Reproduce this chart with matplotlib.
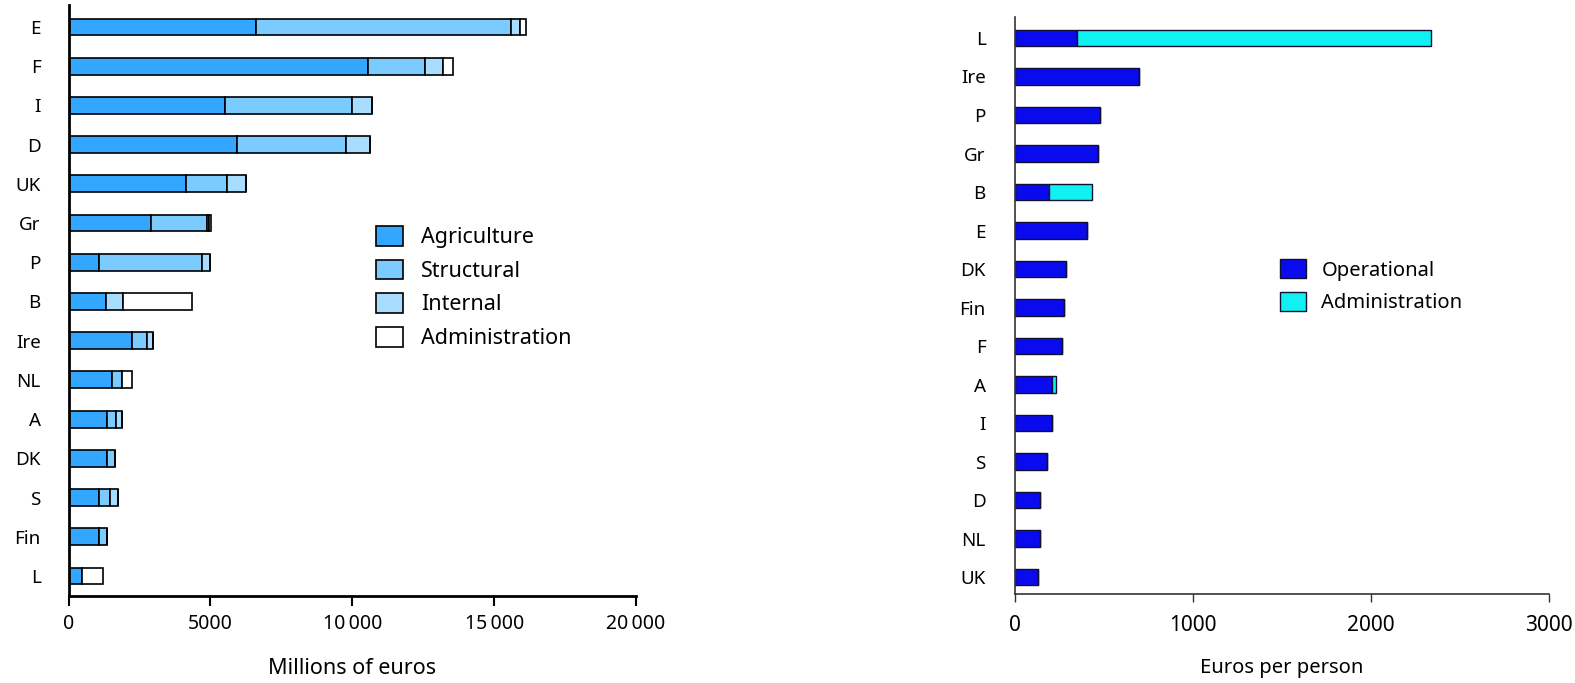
import matplotlib.pyplot as plt
from matplotlib.patches import Patch

plt.rcParams['font.family'] = ['Noto Sans', 'DejaVu Sans']

# EU spending by member state, millions of euros (top to bottom)
countries = ['E', 'F', 'I', 'D', 'UK', 'Gr', 'P', 'B', 'Ire', 'NL', 'A', 'DK', 'S', 'Fin', 'L']
agriculture = [6600, 10540, 5500, 5940, 4130, 2910, 1070, 1320, 2220, 1520, 1340, 1340, 1080, 1080, 460]
structural = [9000, 2020, 4500, 3850, 1470, 1960, 3630, 0, 530, 360, 320, 300, 380, 270, 0]
internal = [320, 650, 700, 850, 670, 80, 270, 590, 220, 0, 220, 0, 280, 0, 0]
administration = [210, 330, 0, 0, 0, 80, 0, 2440, 0, 350, 0, 0, 0, 0, 770]
xticks_left = [0, 5000, 10000, 15000, 20000]
xticklabels_left = ['0', '5000', '10\u2009000', '15\u2009000', '20\u2009000']

# spending per head, euros (top to bottom)
countries_pp = ['L', 'Ire', 'P', 'Gr', 'B', 'E', 'DK', 'Fin', 'F', 'A', 'I', 'S', 'D', 'NL', 'UK']
operational = [350, 696, 478, 466, 192, 404, 288, 276, 266, 206, 206, 182, 142, 142, 130]
admin_pp = [1986, 0, 0, 0, 240, 0, 0, 0, 0, 26, 0, 0, 0, 0, 0]
xticks_right = [0, 1000, 2000, 3000]

W, H = 1575, 683
fig = plt.figure(figsize=(W / 100, H / 100), dpi=100)

# ---- left panel: totals
ax1 = fig.add_axes([68.6 / W, 87 / H, 567.4 / W, 591 / H])
cols1 = ['#33A6FF', '#7BCBFF', '#A8DDFF', 'white']
names1 = ['Agriculture', 'Structural', 'Internal', 'Administration']
y = list(range(len(countries)))
left = [0] * len(countries)
for vals, c in zip([agriculture, structural, internal, administration], cols1):
    ax1.barh(y, vals, left=left, height=0.43, color=c, edgecolor='black', linewidth=1.2)
    left = [a + b for a, b in zip(left, vals)]

ax1.set_xlim(0, 20000)
ax1.set_ylim(14.51, -0.56)
ax1.set_yticks(y)
ax1.set_yticklabels(countries, fontsize=13.5)
ax1.tick_params(axis='y', length=0, pad=20)
ax1.set_xticks(xticks_left)
ax1.set_xticklabels(xticklabels_left, fontsize=14)
ax1.tick_params(axis='x', length=7, width=1.5, pad=6)
ax1.set_xlabel('Millions of euros', fontsize=15.5, labelpad=17)
for s in ['top', 'right']:
    ax1.spines[s].set_visible(False)
for s in ['left', 'bottom']:
    ax1.spines[s].set_linewidth(2)

h1 = [Patch(facecolor=c, edgecolor='black', linewidth=1.2) for c in cols1]
ax1.legend(h1, names1, loc='upper left', bbox_to_anchor=(376 / W, 1 - 226 / H),
           bbox_transform=fig.transFigure, frameon=False, fontsize=15.5,
           handlelength=1.25, handleheight=1.05, labelspacing=0.52,
           handletextpad=0.85, borderpad=0, borderaxespad=0)

# ---- right panel: per person
ax2 = fig.add_axes([1015 / W, 89 / H, 534 / W, 577 / H])
y2 = list(range(len(countries_pp)))
ax2.barh(y2, operational, height=0.43, color='#0A0AEE', edgecolor='#101030', linewidth=1)
ax2.barh(y2, admin_pp, left=operational, height=0.43, color='#10F2F2',
         edgecolor='#101030', linewidth=1)

ax2.set_xlim(0, 3000)
ax2.set_ylim(14.44, -0.545)
ax2.set_yticks(y2)
ax2.set_yticklabels(countries_pp, fontsize=13.5)
ax2.tick_params(axis='y', length=0, pad=21)
ax2.set_xticks(xticks_right)
ax2.set_xticklabels([str(t) for t in xticks_right], fontsize=15)
ax2.tick_params(axis='x', length=6, width=1, color='#333333', pad=9)
ax2.set_xlabel('Euros per person', fontsize=14.5, labelpad=16)
for s in ['top', 'right']:
    ax2.spines[s].set_visible(False)
for s in ['left', 'bottom']:
    ax2.spines[s].set_linewidth(1.2)
    ax2.spines[s].set_color('#333333')

h2 = [Patch(facecolor='#0A0AEE', edgecolor='#101030'),
      Patch(facecolor='#10F2F2', edgecolor='#101030')]
ax2.legend(h2, ['Operational', 'Administration'], loc='upper left',
           bbox_to_anchor=(1280 / W, 1 - 259 / H), bbox_transform=fig.transFigure,
           frameon=False, fontsize=14.5, handlelength=1.3, handleheight=1.1,
           labelspacing=0.55, handletextpad=0.75, borderpad=0, borderaxespad=0)

fig.savefig('out.png', dpi=100)
